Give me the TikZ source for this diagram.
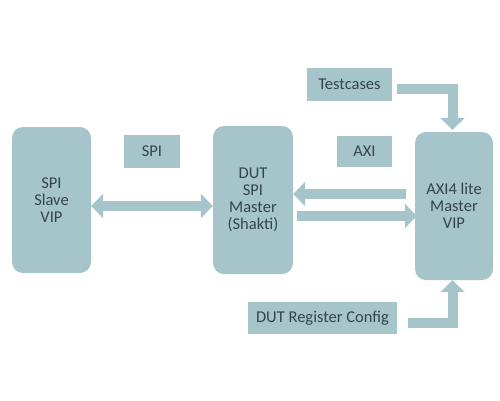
\documentclass[tikz,border=0pt]{standalone}
\usepackage{fontspec}
\setmainfont{Carlito}
\usetikzlibrary{arrows.meta}
\definecolor{boxfill}{HTML}{A5C5CB}
\definecolor{txt}{HTML}{33454B}
\tikzset{
  blockbox/.style={fill=boxfill, draw=none, rounded corners=11pt, align=center,
    text=txt, font=\fontsize{16.5}{17}\selectfont, inner sep=0pt},
  labelbox/.style={fill=boxfill, draw=none, align=center, text=txt,
    font=\fontsize{16.5}{17}\selectfont, inner sep=0pt},
  blk/.style={draw=boxfill, line width=10pt, line join=miter, line cap=butt,
    arrows={-Triangle[width=24pt,length=12pt]}},
}
\begin{document}
\begin{tikzpicture}[x=1pt,y=-1pt]
\useasboundingbox (0,0) rectangle (500,400);
\fill[white] (0,0) rectangle (500,400);
% main blocks
\node[blockbox, minimum width=79pt, minimum height=146pt] (slave) at (51.5,200) {SPI\\Slave\\VIP};
\node[blockbox, minimum width=80pt, minimum height=148pt] (dut) at (253,200) {DUT\\SPI\\Master\\(Shakti)};
\node[blockbox, minimum width=78pt, minimum height=148pt] (axi4) at (454,206) {AXI4 lite\\Master\\VIP};
% labels
\node[labelbox, minimum width=56pt, minimum height=33pt] (spil) at (152,151.5) {SPI};
\node[labelbox, minimum width=55pt, minimum height=31pt] (axil) at (364.5,151.5) {AXI};
\node[labelbox, minimum width=85pt, minimum height=33pt] (tc) at (349.5,84.5) {Testcases};
\node[labelbox, minimum width=149pt, minimum height=32pt] (reg) at (322.5,318) {DUT Register Config};
% connectors
\draw[blk, arrows={Triangle[width=24pt,length=12pt]-Triangle[width=24pt,length=12pt]}]
  ([yshift=-6pt]slave.east) -- ([yshift=-6pt]dut.west);
\draw[blk, shorten <=9pt] ([yshift=12pt]axi4.west) -- ([yshift=6pt]dut.east);
\draw[blk, shorten <=4pt, shorten >=-2pt] ([yshift=-16pt]dut.east) -- ([yshift=-10pt]axi4.west);
\draw[blk, shorten <=5pt, shorten >=2pt] ([yshift=-4pt]tc.east) -| ([xshift=-1.5pt]axi4.north);
\draw[blk, shorten <=11pt] ([yshift=-4.5pt]reg.east) -| ([xshift=-1.5pt]axi4.south);
\end{tikzpicture}
\end{document}
